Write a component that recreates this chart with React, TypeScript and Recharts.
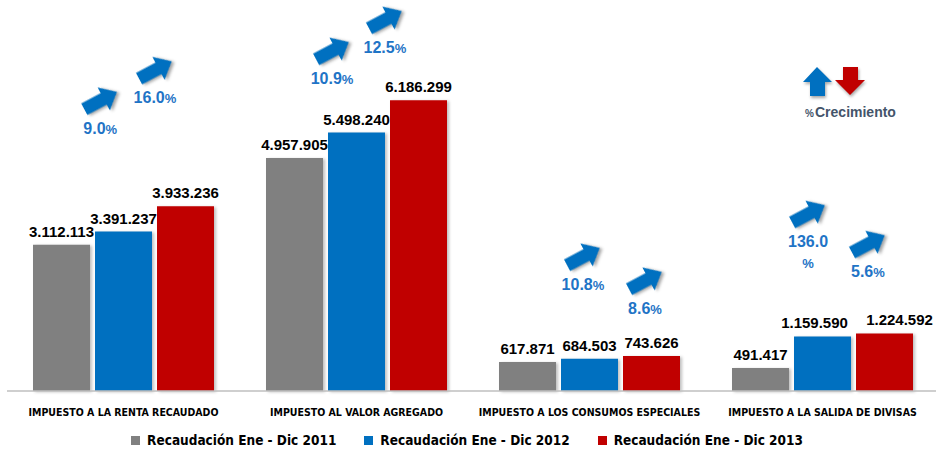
import React from "react"
import { Bar, ComposedChart, LabelList, Legend, Scatter, XAxis, YAxis } from "recharts"

const categories = [
  "IMPUESTO A LA RENTA RECAUDADO",
  "IMPUESTO AL VALOR AGREGADO",
  "IMPUESTO A LOS CONSUMOS ESPECIALES",
  "IMPUESTO A LA SALIDA DE DIVISAS",
]
const seriesNames = ["Recaudación Ene - Dic 2011", "Recaudación Ene - Dic 2012", "Recaudación Ene - Dic 2013"]
const rec2011 = [3112113, 4957905, 617871, 491417]
const rec2012 = [3391237, 5498240, 684503, 1159590]
const rec2013 = [3933236, 6186299, 743626, 1224592]

// % growth vs previous year
const growth2012 = [9.0, 10.9, 10.8, 136.0]
const growth2013 = [16.0, 12.5, 8.6, 5.6]
// where each growth note sits: x in category units, y in dollars
const growth2012X = [0.4, 1.395, 2.472, 3.438]
const growth2012Y = [5600000, 6660000, 2280000, 3190000]
const growth2013X = [0.635, 1.622, 2.738, 3.695]
const growth2013Y = [6250000, 7320000, 1770000, 2550000]

const colors = ["#808080", "#0070C0", "#C00000"]
const keys = ["y2011", "y2012", "y2013"]

const narrow = "'Liberation Sans Narrow', 'Arial Narrow', 'DejaVu Sans Condensed', sans-serif"
const sans = "'Liberation Sans', Arial, sans-serif"

const data = categories.map((name, i) => ({
  name,
  y2011: rec2011[i],
  y2012: rec2012[i],
  y2013: rec2013[i],
}))

const notes = [
  ...growth2012.map((g, i) => ({ x: growth2012X[i], y: growth2012Y[i], g })),
  ...growth2013.map((g, i) => ({ x: growth2013X[i], y: growth2013Y[i], g })),
]

const fmt = (v: any) => String(v).replace(/\B(?=(\d{3})+(?!\d))/g, ".")

// 2012 and 2013 labels collide when both bars are about as tall; nudge them apart like the original
const crowded = (i: number) =>
  Math.abs(rec2013[i] - rec2012[i]) < 400000 && (fmt(rec2012[i]).length + fmt(rec2013[i]).length) * 3.8 > 62

const ValueLabel = (k: string) => (props: any) => {
  const { x, y, width, value, index } = props
  let dx = 0
  if (crowded(index)) dx = k === "y2012" ? -8 : k === "y2013" ? 15 : 0
  return (
    <text x={x + width / 2 + dx} y={y - 8} textAnchor="middle" fontFamily={sans} fontWeight="bold" fontSize={15} fill="#000">
      {fmt(value)}
    </text>
  )
}

const arrowPts = "-18,-6.5 4,-6.5 4,-13 19,0 4,13 4,6.5 -18,6.5"

const GrowthNote = (props: any) => {
  const { cx, cy, payload } = props
  const txt = payload.g.toFixed(1)
  const wrap = payload.g >= 100
  return (
    <g>
      <polygon
        points={arrowPts}
        transform={`translate(${cx},${cy - 27}) rotate(-28)`}
        fill="#0070C0"
        style={{ filter: "drop-shadow(2px 2px 1.5px rgba(0,0,0,0.35))" }}
      />
      <text x={cx} y={cy + 6} textAnchor="middle" fontFamily={sans} fontWeight="bold" fontSize={16} fill="#1F74C6">
        {txt}
        {!wrap && <tspan fontSize={13}>%</tspan>}
      </text>
      {wrap && (
        <text x={cx} y={cy + 27} textAnchor="middle" fontFamily={sans} fontWeight="bold" fontSize={13} fill="#1F74C6">
          %
        </text>
      )}
    </g>
  )
}

const LegendBox = () => (
  <div style={{ display: "flex", justifyContent: "center", paddingRight: 12, fontFamily: narrow, fontWeight: "bold", fontSize: 13.5, color: "#000", lineHeight: "19px" }}>
    {seriesNames.map((s, i) => (
      <div key={s} style={{ display: "flex", alignItems: "center", marginRight: i < 2 ? 28 : 0 }}>
        <span style={{ width: 9, height: 9, background: colors[i], marginRight: 7, display: "inline-block" }} />
        {s}
      </div>
    ))}
  </div>
)

const GrowthKey = () => (
  <svg width={130} height={70} style={{ position: "absolute", left: 795, top: 60 }}>
    <g style={{ filter: "drop-shadow(1px 2px 1.5px rgba(0,0,0,0.35))" }}>
      <polygon points="22,7 37,22 30,22 30,36 15,36 15,22 8,22" fill="#0070C0" />
      <polygon points="48,7 63,7 63,20 70,20 55,35 40,20 48,20" fill="#C00000" />
    </g>
    <text x={10} y={57} fontFamily={sans} fontWeight="bold" fontSize={10} fill="#44546A">%</text>
    <text x={20} y={57} fontFamily={sans} fontWeight="bold" fontSize={14} fill="#44546A">Crecimiento</text>
  </svg>
)

export default function App() {
  return (
    <div style={{ position: "absolute", left: 0, top: 0, width: 936, height: 450, overflow: "hidden", background: "#fff" }}>
      <ComposedChart width={939} height={450} data={data} margin={{ top: 15, right: 0, left: 7, bottom: 0 }} barSize={57} barGap={5}>
        <XAxis xAxisId="ann" type="number" dataKey="x" domain={[0, 4]} height={0} hide />
        <XAxis
          dataKey="name"
          xAxisId="cat"
          height={40}
          tickLine={false}
          axisLine={{ stroke: "#BFBFBF", strokeWidth: 1.5 }}
          tickMargin={12}
          interval={0}
          tick={{ fontSize: 10.5, fontWeight: "bold", fill: "#000", fontFamily: narrow }}
        />
        <YAxis domain={[0, 8000000]} hide />
        <Legend verticalAlign="bottom" height={19} content={() => <LegendBox />} />
        {keys.map((k, i) => (
          <Bar
            key={k}
            dataKey={k}
            name={seriesNames[i]}
            xAxisId="cat"
            fill={colors[i]}
            isAnimationActive={false}
            style={{ filter: "drop-shadow(2px 1px 1.5px rgba(0,0,0,0.25))" }}
          >
            <LabelList dataKey={k} content={ValueLabel(k)} />
          </Bar>
        ))}
        <Scatter data={notes} dataKey="y" xAxisId="ann" shape={GrowthNote} isAnimationActive={false} legendType="none" />
      </ComposedChart>
      <GrowthKey />
    </div>
  )
}
